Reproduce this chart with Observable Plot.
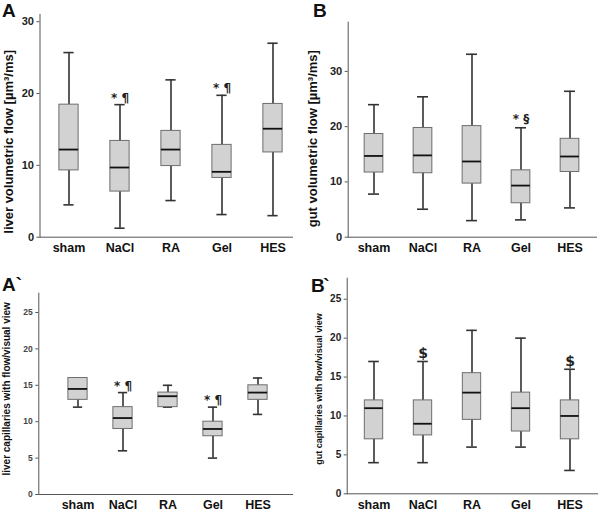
<!DOCTYPE html>
<html>
<head>
<meta charset="utf-8">
<script src="https://cdn.jsdelivr.net/npm/d3@7"></script>
<script src="https://cdn.jsdelivr.net/npm/@observablehq/plot@0.6"></script>
<style>
  html, body { margin: 0; padding: 0; background: #fff; }
  #wrap { position: relative; width: 600px; height: 512px; font-family: "Liberation Sans", Arial, sans-serif; }
  .panel { position: absolute; width: 300px; height: 256px; }
  .letter { position: absolute; font-weight: bold; font-size: 19px; color: #111; line-height: 15px; }
</style>
</head>
<body>
<div id="wrap"></div>
<script>
const groups = ["sham", "NaCl", "RA", "Gel", "HES"];

// Panel A: liver volumetric flow [µm³/ms]
const liverFlowLo  = [4.5, 1.25, 5.1, 3.15, 3.0];
const liverFlowQ1  = [9.3, 6.35, 9.9, 8.25, 11.8];
const liverFlowMed = [12.2, 9.7, 12.2, 9.1, 15.1];
const liverFlowQ3  = [18.45, 13.4, 14.8, 12.85, 18.55];
const liverFlowHi  = [25.7, 18.45, 21.9, 19.75, 27.0];
const liverFlowNotes = [["NaCl", "* ¶"], ["Gel", "* ¶"]];

// Panel B: gut volumetric flow [µm³/ms]
const gutFlowLo  = [7.8, 5.06, 3.0, 3.13, 5.3];
const gutFlowQ1  = [11.7, 11.57, 9.7, 6.14, 11.8];
const gutFlowMed = [14.7, 14.8, 13.7, 9.34, 14.6];
const gutFlowQ3  = [18.67, 19.76, 20.1, 12.1, 17.8];
const gutFlowHi  = [23.98, 25.4, 33.1, 19.8, 26.4];
const gutFlowNotes = [["Gel", "* §"]];

// Panel A`: liver capillaries with flow/visual view
const liverCapLo  = [12, 6, 12, 5, 11];
const liverCapQ1  = [13, 9, 12, 8, 13];
const liverCapMed = [14.5, 10.5, 13.5, 9, 14];
const liverCapQ3  = [16, 12, 14, 10, 15];
const liverCapHi  = [16, 14, 15, 12, 16];
const liverCapNotes = [["NaCl", "* ¶"], ["Gel", "* ¶"]];

// Panel B`: gut capillaries with flow/visual view
const gutCapLo  = [4, 4, 6, 6, 3];
const gutCapQ1  = [7, 7.5, 9.5, 8, 7];
const gutCapMed = [11, 9, 13, 11, 10];
const gutCapQ3  = [12, 12, 15.5, 13, 12];
const gutCapHi  = [17, 17, 21, 20, 16];
const gutCapNotes = [["NaCl", "$"], ["HES", "$"]];

const FONT = "Liberation Sans, Arial, sans-serif";

function rows(lo, q1, med, q3, hi) {
  return groups.map((g, i) => ({group: g, lo: lo[i], q1: q1[i], med: med[i], q3: q3[i], hi: hi[i]}));
}

function panel(cfg) {
  const data = rows(...cfg.stats);
  const notes = cfg.notes.map(([g, t]) => ({group: g, text: t.replace("¶", "¶\uFE0E").replace("§", "§\uFE0E"), hi: data.find(d => d.group === g).hi}));
  const bw = (cfg.xRange[1] - cfg.xRange[0]) / groups.length;
  const boxInset = (bw - cfg.boxW) / 2;
  const capInset = (bw - cfg.capW) / 2;
  return Plot.plot({
    width: 300,
    height: 256,
    marginLeft: cfg.ml,
    marginRight: cfg.mr,
    marginTop: cfg.mt,
    marginBottom: cfg.mb,
    style: {fontFamily: FONT, background: "transparent", overflow: "visible"},
    x: {type: "band", domain: groups, range: cfg.xRange, padding: 0, label: null},
    y: {domain: cfg.yDomain, label: null},
    marks: [
      Plot.frame({anchor: "left", stroke: "#555", strokeWidth: 1}),
      Plot.axisY({ticks: cfg.yTicks, tickSize: 3, tickPadding: cfg.yPad, fontSize: cfg.tickFont, fontWeight: "bold", fill: cfg.tickColor, stroke: "#555", label: null}),
      Plot.axisX({tickSize: 0, tickPadding: cfg.xPad, fontSize: 12.5, fontWeight: "bold", fill: "#111", label: null}),
      Plot.ruleY([cfg.yDomain[0]], {stroke: "#555", strokeWidth: 1}),
      Plot.ruleX(data, {x: "group", y1: "lo", y2: "hi", stroke: "#333", strokeWidth: 1.6}),
      Plot.tickY(data, {x: "group", y: "lo", stroke: "#333", strokeWidth: 1.6, inset: capInset}),
      Plot.tickY(data, {x: "group", y: "hi", stroke: "#333", strokeWidth: 1.6, inset: capInset}),
      Plot.barY(data, {x: "group", y1: "q1", y2: "q3", fill: "#d2d2d2", stroke: "#6e6e6e", strokeWidth: 1, insetLeft: boxInset, insetRight: boxInset}),
      Plot.tickY(data, {x: "group", y: "med", stroke: "#111", strokeWidth: 1.8, inset: boxInset}),
      Plot.text(notes, {x: "group", y: "hi", text: "text", lineAnchor: "bottom", dy: cfg.noteDy, dx: cfg.noteDx, fontSize: cfg.noteFont, fontWeight: "bold", fill: "#222", fontFamily: "DejaVu Sans, Liberation Sans, sans-serif"}),
      Plot.text([cfg.yLabel], {frameAnchor: "left", dx: cfg.labDx, dy: cfg.labDy, rotate: -90, fontSize: cfg.labFont, fontWeight: "bold", fill: "#111", textAnchor: "middle"})
    ]
  });
}

const panels = [
  {left: 0, top: 0, letter: "A", lx: 2, ly: 3, ls: 0,
   stats: [liverFlowLo, liverFlowQ1, liverFlowMed, liverFlowQ3, liverFlowHi], notes: liverFlowNotes,
   ml: 39.5, mr: 7, mt: 14, mb: 19.3, xRange: [41.1, 299.9], yDomain: [0, 31], yTicks: [0, 10, 20, 30],
   boxW: 20, capW: 11, tickFont: 11, tickColor: "#222", yPad: 3, xPad: 6, noteDy: -3, noteDx: 0, noteFont: 12,
   yLabel: "liver volumetric flow [µm³/ms]", labDx: -31, labDy: 16, labFont: 13},
  {left: 300, top: 0, letter: "B", lx: 13, ly: 3, ls: 0,
   stats: [gutFlowLo, gutFlowQ1, gutFlowMed, gutFlowQ3, gutFlowHi], notes: gutFlowNotes,
   ml: 47.7, mr: 3, mt: 21.7, mb: 19.3, xRange: [48.5, 293.5], yDomain: [0, 38.9], yTicks: [0, 10, 20, 30],
   boxW: 18.7, capW: 11, tickFont: 11, tickColor: "#222", yPad: 3, xPad: 6, noteDy: -5, noteDx: 0, noteFont: 12,
   yLabel: "gut volumetric flow [µm³/ms]", labDx: -35, labDy: 9, labFont: 13},
  {left: 0, top: 256, letter: "A`", lx: 2, ly: 21, ls: 0,
   stats: [liverCapLo, liverCapQ1, liverCapMed, liverCapQ3, liverCapHi], notes: liverCapNotes,
   ml: 38.3, mr: 7, mt: 36.7, mb: 18, xRange: [53.1, 281.9], yDomain: [0, 27.65], yTicks: [0, 5, 10, 15, 20, 25],
   boxW: 20, capW: 10, tickFont: 8.5, tickColor: "#444", yPad: 3, xPad: 6, noteDy: -3, noteDx: 0, noteFont: 12,
   yLabel: "liver capillaries with flow/visual view", labDx: -32, labDy: -5, labFont: 10},
  {left: 300, top: 256, letter: "B`", lx: 11, ly: 22, ls: -1.5,
   stats: [gutCapLo, gutCapQ1, gutCapMed, gutCapQ3, gutCapHi], notes: gutCapNotes,
   ml: 46.7, mr: 2, mt: 21.7, mb: 18.7, xRange: [48.6, 295.4], yDomain: [0, 27.7], yTicks: [0, 5, 10, 15, 20, 25],
   boxW: 18.7, capW: 11, tickFont: 10, tickColor: "#222", yPad: 3, xPad: 6, noteDy: -3, noteDx: 0, noteFont: 14,
   yLabel: "gut capillaries with flow/visual view", labDx: -28, labDy: 3, labFont: 9}
];

const wrap = document.getElementById("wrap");
for (const p of panels) {
  const div = document.createElement("div");
  div.className = "panel";
  div.style.left = p.left + "px";
  div.style.top = p.top + "px";
  div.appendChild(panel(p));
  const l = document.createElement("div");
  l.className = "letter";
  l.textContent = p.letter;
  l.style.left = p.lx + "px";
  l.style.top = p.ly + "px";
  l.style.letterSpacing = p.ls + "px";
  div.appendChild(l);
  wrap.appendChild(div);
}
</script>
</body>
</html>
